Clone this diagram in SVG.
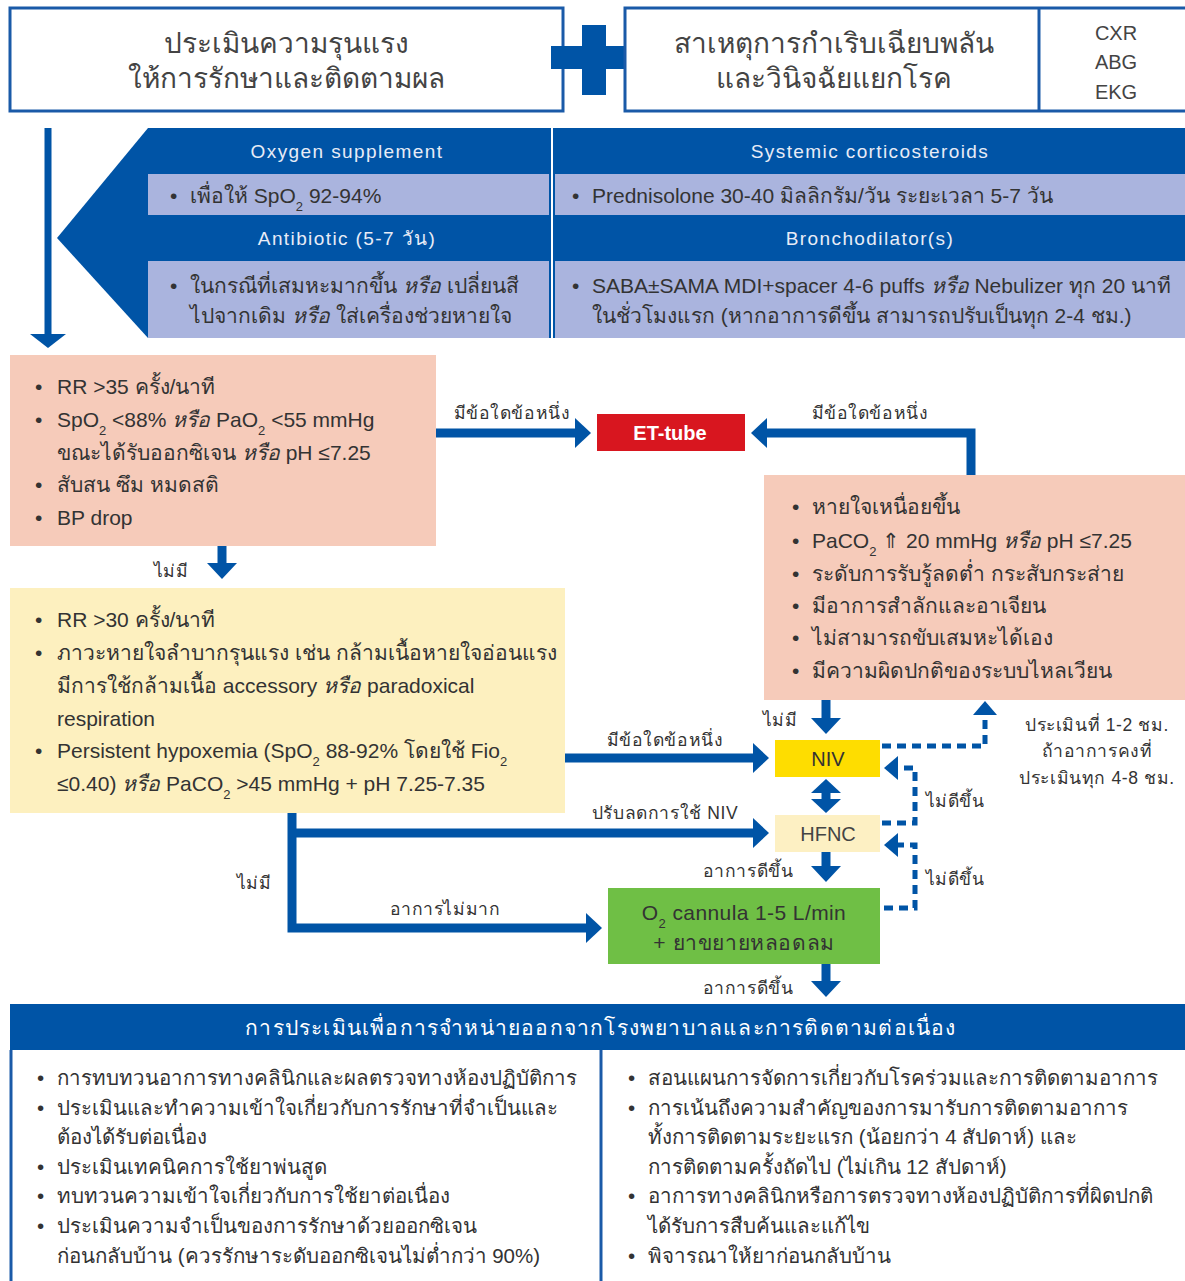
<svg xmlns="http://www.w3.org/2000/svg" width="1185" height="1281" viewBox="0 0 1185 1281">
<defs>
<style>
text{font-family:"Liberation Sans","Noto Sans",sans-serif;fill:#333}
.h1{font-size:28px;fill:#444;text-anchor:middle}
.hd{font-size:19px;fill:#e8ecf7;text-anchor:middle;letter-spacing:1.4px}
.lv{font-size:21px}
.b{font-size:20.5px}
.bt{font-size:21px}
.sm{font-size:17.5px;text-anchor:middle;letter-spacing:0.6px}
.it{font-style:italic}
.sub{font-size:13px}
.ln{fill:none;stroke:#0054a6;stroke-width:9}
.dash{fill:none;stroke:#0054a6;stroke-width:5;stroke-dasharray:9 6}
.frame{fill:#fff;stroke:#1a5aa8;stroke-width:3}
</style>
<marker id="ah" markerUnits="userSpaceOnUse" viewBox="0 0 16 30" markerWidth="16" markerHeight="30" refX="6" refY="15" orient="auto-start-reverse">
<path d="M0,0 L16,15 L0,30 z" fill="#0054a6"/>
</marker>
<marker id="ahd" markerUnits="userSpaceOnUse" viewBox="0 0 14 30" markerWidth="14" markerHeight="30" refX="2" refY="15" orient="auto-start-reverse">
<path d="M0,0 L14,15 L0,30 z" fill="#0054a6"/>
</marker>
<marker id="ahs" markerUnits="userSpaceOnUse" viewBox="0 0 14 24" markerWidth="14" markerHeight="24" refX="2" refY="12" orient="auto">
<path d="M0,0 L14,12 L0,24 z" fill="#0054a6"/>
</marker>
<marker id="ahb" markerUnits="userSpaceOnUse" viewBox="0 0 14 36" markerWidth="14" markerHeight="36" refX="4" refY="18" orient="auto">
<path d="M0,0 L14,18 L0,36 z" fill="#0054a6"/>
</marker>
</defs>

<g id="assess">
<rect class="frame" x="10" y="8" width="553" height="103"/>
<text class="h1" x="286" y="53">ประเมินความรุนแรง</text>
<text class="h1" x="286" y="88">ให้การรักษาและติดตามผล</text>
</g>

<g id="plus">
<rect x="551" y="46" width="84" height="23" fill="#0054a6"/>
<rect x="582" y="25" width="24" height="70" fill="#0054a6"/>
</g>

<g id="cause">
<rect class="frame" x="625" y="8" width="570" height="103"/>
<line x1="1039" y1="8" x2="1039" y2="111" stroke="#1a5aa8" stroke-width="3"/>
<text class="h1" x="834" y="53">สาเหตุการกำเริบเฉียบพลัน</text>
<text class="h1" x="834" y="88">และวินิจฉัยแยกโรค</text>
<text x="1116" y="40" style="font-size:20px;fill:#444;text-anchor:middle">CXR</text>
<text x="1116" y="69" style="font-size:20px;fill:#444;text-anchor:middle">ABG</text>
<text x="1116" y="99" style="font-size:20px;fill:#444;text-anchor:middle">EKG</text>
</g>

<g id="treatment">
<polygon points="148,128 1185,128 1185,338 148,338 57,238" fill="#0054a6"/>
<rect x="148" y="174" width="401" height="41" fill="#aab4de"/>
<rect x="555" y="174" width="630" height="41" fill="#aab4de"/>
<rect x="148" y="261" width="401" height="77" fill="#aab4de"/>
<rect x="555" y="261" width="630" height="77" fill="#aab4de"/>
<line x1="552" y1="128" x2="552" y2="338" stroke="#fff" stroke-width="2"/>
<text class="hd" x="347" y="158">Oxygen supplement</text>
<text class="hd" x="870" y="158">Systemic corticosteroids</text>
<text class="hd" x="347" y="245">Antibiotic (5-7 วัน)</text>
<text class="hd" x="870" y="245">Bronchodilator(s)</text>
<text class="lv" x="170" y="203">•</text>
<text class="lv" x="190" y="203">เพื่อให้ SpO<tspan class="sub" baseline-shift="sub">2</tspan> 92-94%</text>
<text class="lv" x="572" y="203">•</text>
<text class="lv" x="592" y="203">Prednisolone 30-40 มิลลิกรัม/วัน ระยะเวลา 5-7 วัน</text>
<text class="lv" x="170" y="293">•</text>
<text class="lv" x="190" y="293">ในกรณีที่เสมหะมากขึ้น <tspan class="it">หรือ</tspan> เปลี่ยนสี</text>
<text class="lv" x="190" y="323">ไปจากเดิม <tspan class="it">หรือ</tspan> ใส่เครื่องช่วยหายใจ</text>
<text class="lv" x="572" y="293">•</text>
<text class="lv" x="592" y="293">SABA±SAMA MDI+spacer 4-6 puffs <tspan class="it">หรือ</tspan> Nebulizer ทุก 20 นาที</text>
<text class="lv" x="592" y="323">ในชั่วโมงแรก (หากอาการดีขึ้น สามารถปรับเป็นทุก 2-4 ชม.)</text>
</g>

<g id="severe">
<rect x="10" y="355" width="426" height="191" fill="#f6cbba"/>
<text class="bt" x="35" y="394">•</text>
<text class="bt" x="57" y="394">RR &gt;35 ครั้ง/นาที</text>
<text class="bt" x="35" y="427">•</text>
<text class="bt" x="57" y="427">SpO<tspan class="sub" baseline-shift="sub">2</tspan> &lt;88% <tspan class="it">หรือ</tspan> PaO<tspan class="sub" baseline-shift="sub">2</tspan> &lt;55 mmHg</text>
<text class="bt" x="57" y="460">ขณะได้รับออกซิเจน <tspan class="it">หรือ</tspan> pH ≤7.25</text>
<text class="bt" x="35" y="492">•</text>
<text class="bt" x="57" y="492">สับสน ซึม หมดสติ</text>
<text class="bt" x="35" y="525">•</text>
<text class="bt" x="57" y="525">BP drop</text>
</g>

<g id="ettube">
<rect x="597" y="414" width="148" height="37" fill="#d8161f"/>
<text x="670" y="440" style="font-size:20px;font-weight:bold;fill:#fff;text-anchor:middle">ET-tube</text>
</g>

<g id="worsen">
<rect x="764" y="475" width="421" height="225" fill="#f6cbba"/>
<text class="bt" x="792" y="514">•</text>
<text class="bt" x="812" y="514">หายใจเหนื่อยขึ้น</text>
<text class="bt" x="792" y="548">•</text>
<text class="bt" x="812" y="548">PaCO<tspan class="sub" baseline-shift="sub">2</tspan> ⇑ 20 mmHg <tspan class="it">หรือ</tspan> pH ≤7.25</text>
<text class="bt" x="792" y="581">•</text>
<text class="bt" x="812" y="581">ระดับการรับรู้ลดต่ำ กระสับกระส่าย</text>
<text class="bt" x="792" y="613">•</text>
<text class="bt" x="812" y="613">มีอาการสำลักและอาเจียน</text>
<text class="bt" x="792" y="645">•</text>
<text class="bt" x="812" y="645">ไม่สามารถขับเสมหะได้เอง</text>
<text class="bt" x="792" y="678">•</text>
<text class="bt" x="812" y="678">มีความผิดปกติของระบบไหลเวียน</text>
</g>

<g id="moderate">
<rect x="10" y="588" width="555" height="225" fill="#fdf0bf"/>
<text class="bt" x="35" y="627">•</text>
<text class="bt" x="57" y="627">RR &gt;30 ครั้ง/นาที</text>
<text class="bt" x="35" y="660">•</text>
<text class="bt" x="57" y="660">ภาวะหายใจลำบากรุนแรง เช่น กล้ามเนื้อหายใจอ่อนแรง</text>
<text class="bt" x="57" y="693">มีการใช้กล้ามเนื้อ accessory <tspan class="it">หรือ</tspan> paradoxical</text>
<text class="bt" x="57" y="726">respiration</text>
<text class="bt" x="35" y="758">•</text>
<text class="bt" x="57" y="758">Persistent hypoxemia (SpO<tspan class="sub" baseline-shift="sub">2</tspan> 88-92% โดยใช้ Fio<tspan class="sub" baseline-shift="sub">2</tspan></text>
<text class="bt" x="57" y="791">≤0.40) <tspan class="it">หรือ</tspan> PaCO<tspan class="sub" baseline-shift="sub">2</tspan> &gt;45 mmHg + pH 7.25-7.35</text>
</g>

<g id="niv">
<rect x="775" y="740" width="105" height="37" fill="#fedd00"/>
<text x="828" y="766" style="font-size:20px;fill:#333;text-anchor:middle">NIV</text>
</g>

<g id="hfnc">
<rect x="775" y="815" width="105" height="37" fill="#fdf0c3"/>
<text x="828" y="841" style="font-size:20px;fill:#444;text-anchor:middle">HFNC</text>
</g>

<g id="cannula">
<rect x="608" y="888" width="272" height="76" fill="#6fbf45"/>
<text x="744" y="920" style="font-size:21px;fill:#333;text-anchor:middle;letter-spacing:0.4px">O<tspan class="sub" baseline-shift="sub">2</tspan> cannula 1-5 L/min</text>
<text x="744" y="950" style="font-size:21px;fill:#333;text-anchor:middle;letter-spacing:0.6px">+  ยาขยายหลอดลม</text>
</g>

<g id="monitor-note">
<text class="sm" x="1097" y="731">ประเมินที่ 1-2 ชม.</text>
<text class="sm" x="1097" y="757">ถ้าอาการคงที่</text>
<text class="sm" x="1097" y="784">ประเมินทุก 4-8 ชม.</text>
</g>

<g id="discharge">
<rect x="10" y="1004" width="1185" height="46" fill="#0054a6"/>
<text x="601" y="1035" style="font-size:21px;fill:#fff;text-anchor:middle;letter-spacing:1.2px">การประเมินเพื่อการจำหน่ายออกจากโรงพยาบาลและการติดตามต่อเนื่อง</text>
<line x1="11" y1="1050" x2="11" y2="1281" stroke="#1a5aa8" stroke-width="3"/>
<line x1="601" y1="1050" x2="601" y2="1281" stroke="#1a5aa8" stroke-width="3"/>
<text class="b" x="37" y="1085">•</text>
<text class="b" x="57" y="1085">การทบทวนอาการทางคลินิกและผลตรวจทางห้องปฏิบัติการ</text>
<text class="b" x="37" y="1115">•</text>
<text class="b" x="57" y="1115">ประเมินและทำความเข้าใจเกี่ยวกับการรักษาที่จำเป็นและ</text>
<text class="b" x="57" y="1144">ต้องได้รับต่อเนื่อง</text>
<text class="b" x="37" y="1174">•</text>
<text class="b" x="57" y="1174">ประเมินเทคนิคการใช้ยาพ่นสูด</text>
<text class="b" x="37" y="1203">•</text>
<text class="b" x="57" y="1203">ทบทวนความเข้าใจเกี่ยวกับการใช้ยาต่อเนื่อง</text>
<text class="b" x="37" y="1233">•</text>
<text class="b" x="57" y="1233">ประเมินความจำเป็นของการรักษาด้วยออกซิเจน</text>
<text class="b" x="57" y="1263">ก่อนกลับบ้าน (ควรรักษาระดับออกซิเจนไม่ต่ำกว่า 90%)</text>
<text class="b" x="628" y="1085">•</text>
<text class="b" x="648" y="1085">สอนแผนการจัดการเกี่ยวกับโรคร่วมและการติดตามอาการ</text>
<text class="b" x="628" y="1115">•</text>
<text class="b" x="648" y="1115">การเน้นถึงความสำคัญของการมารับการติดตามอาการ</text>
<text class="b" x="648" y="1144">ทั้งการติดตามระยะแรก (น้อยกว่า 4 สัปดาห์) และ</text>
<text class="b" x="648" y="1174">การติดตามครั้งถัดไป (ไม่เกิน 12 สัปดาห์)</text>
<text class="b" x="628" y="1203">•</text>
<text class="b" x="648" y="1203">อาการทางคลินิกหรือการตรวจทางห้องปฏิบัติการที่ผิดปกติ</text>
<text class="b" x="648" y="1233">ได้รับการสืบค้นและแก้ไข</text>
<text class="b" x="628" y="1263">•</text>
<text class="b" x="648" y="1263">พิจารณาให้ยาก่อนกลับบ้าน</text>
</g>

<g id="connectors">
<line x1="48" y1="128" x2="48" y2="338" stroke="#0054a6" stroke-width="7" marker-end="url(#ahb)"/>
<line class="ln" x1="436" y1="433" x2="581" y2="433" marker-end="url(#ah)"/>
<polyline class="ln" points="971,475 971,433 761,433" marker-end="url(#ah)"/>
<line class="ln" x1="222" y1="546" x2="222" y2="569" marker-end="url(#ah)"/>
<line class="ln" x1="565" y1="758" x2="759" y2="758" marker-end="url(#ah)"/>
<line class="ln" x1="826" y1="700" x2="826" y2="724" marker-end="url(#ah)"/>
<line class="ln" x1="826" y1="791" x2="826" y2="801" marker-start="url(#ahd)" marker-end="url(#ahd)"/>
<polyline class="ln" points="292,813 292,928 592,928" marker-end="url(#ah)"/>
<line class="ln" x1="292" y1="833" x2="759" y2="833" marker-end="url(#ah)"/>
<line class="ln" x1="826" y1="852" x2="826" y2="872" marker-end="url(#ah)"/>
<line class="ln" x1="826" y1="964" x2="826" y2="987" marker-end="url(#ah)"/>
<polyline class="dash" points="882,746 985,746 985,712"/>
<line x1="985" y1="714" x2="985" y2="713" stroke="#0054a6" stroke-width="5" marker-end="url(#ahs)"/>
<polyline class="dash" points="882,823 915,823 915,768 897,768"/>
<line x1="897" y1="768" x2="896" y2="768" stroke="#0054a6" stroke-width="5" marker-end="url(#ahs)"/>
<polyline class="dash" points="884,908 915,908 915,845 897,845"/>
<line x1="897" y1="845" x2="896" y2="845" stroke="#0054a6" stroke-width="5" marker-end="url(#ahs)"/>
<text class="sm" x="512" y="419">มีข้อใดข้อหนึ่ง</text>
<text class="sm" x="870" y="419">มีข้อใดข้อหนึ่ง</text>
<text class="sm" x="171" y="577">ไม่มี</text>
<text class="sm" x="780" y="726">ไม่มี</text>
<text class="sm" x="665" y="746">มีข้อใดข้อหนึ่ง</text>
<text class="sm" x="665" y="819">ปรับลดการใช้ NIV</text>
<text class="sm" x="955" y="807">ไม่ดีขึ้น</text>
<text class="sm" x="955" y="885">ไม่ดีขึ้น</text>
<text class="sm" x="748" y="877">อาการดีขึ้น</text>
<text class="sm" x="748" y="994">อาการดีขึ้น</text>
<text class="sm" x="254" y="889">ไม่มี</text>
<text class="sm" x="445" y="915">อาการไม่มาก</text>
</g>
</svg>
